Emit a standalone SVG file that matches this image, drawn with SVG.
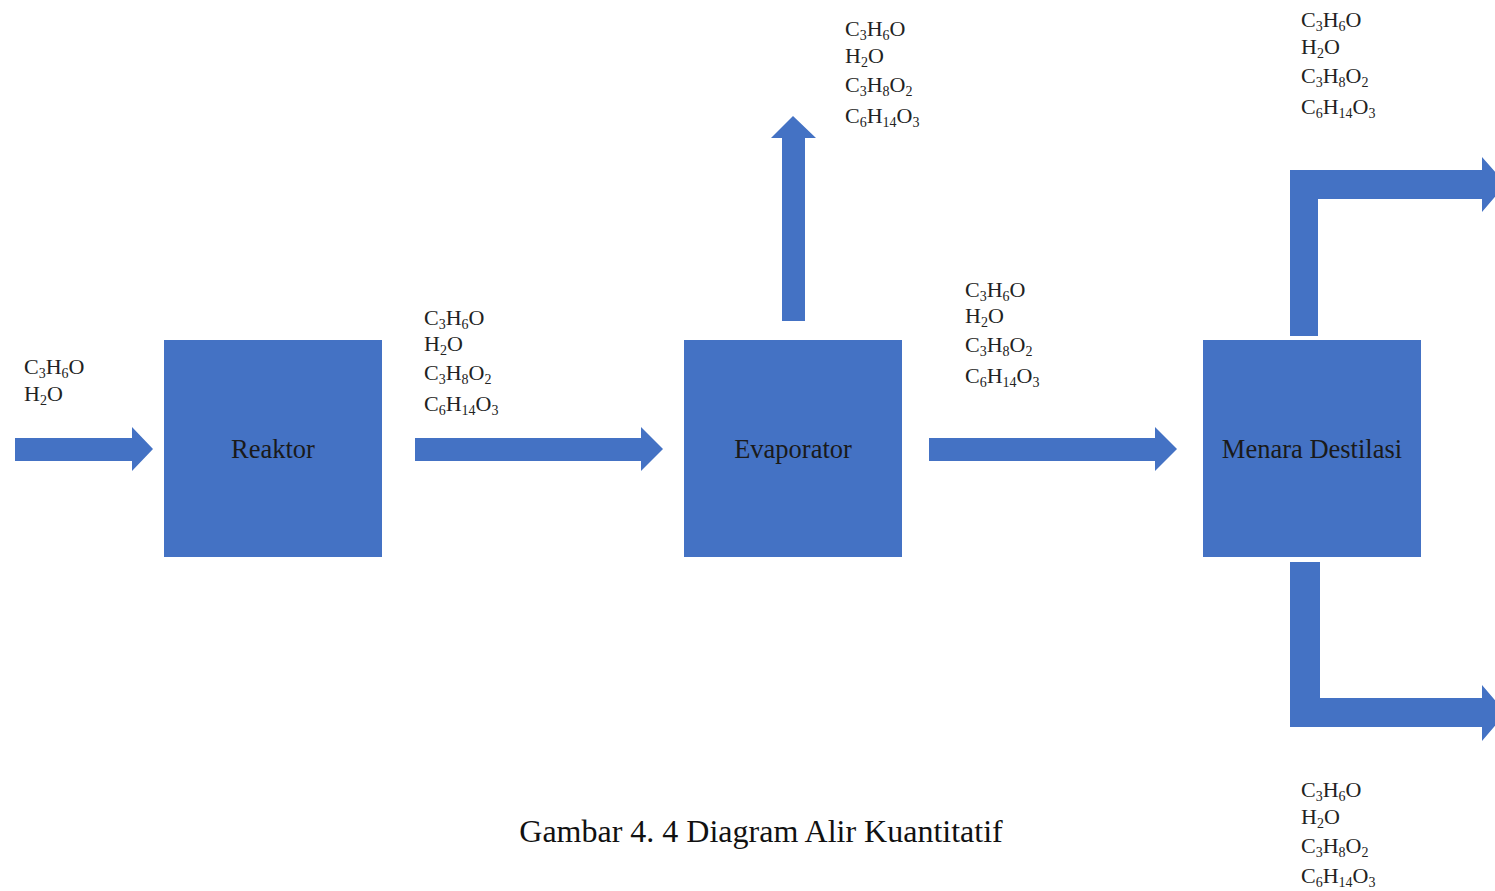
<svg xmlns="http://www.w3.org/2000/svg" width="1495" height="891" viewBox="0 0 1495 891">
<style>
.box{fill:#4472C4;}
.arr{fill:#4472C4;}
.lbl{font-family:"Liberation Serif","Times New Roman",serif;font-size:26.5px;fill:#1a1a1a;text-anchor:middle;dominant-baseline:central;}
.f{font-family:"Liberation Serif","Times New Roman",serif;font-size:22px;fill:#222;}
.s{font-size:14px;}
.cap{font-family:"Liberation Serif","Times New Roman",serif;font-size:32px;fill:#111;text-anchor:middle;}
</style>
<rect width="1495" height="891" fill="#fff"/>
<g id="connectors">
<polygon class="arr" points="15,438 132,438 132,427 153,449 132,471 132,461 15,461"/>
<polygon class="arr" points="415,438 641,438 641,427 663,449 641,471 641,461 415,461"/>
<polygon class="arr" points="929,438 1155,438 1155,427 1177,449 1155,471 1155,461 929,461"/>
<polygon class="arr" points="782,321 782,138 771,138 793,116 816,138 805,138 805,321"/>
<polygon class="arr" points="1290,336 1290,170 1482,170 1482,157 1506,184 1482,212 1482,199 1318,199 1318,336"/>
<polygon class="arr" points="1290,562 1320,562 1320,698 1482,698 1482,685 1506,713 1482,741 1482,727 1290,727"/>
</g>
<g id="reaktor"><rect class="box" x="164" y="340" width="218" height="217"/><text class="lbl" x="273" y="449">Reaktor</text></g>
<g id="evaporator"><rect class="box" x="684" y="340" width="218" height="217"/><text class="lbl" x="793" y="449">Evaporator</text></g>
<g id="menara"><rect class="box" x="1203" y="340" width="218" height="217"/><text class="lbl" x="1312" y="449">Menara Destilasi</text></g>
<g id="labels-in">
<text class="f" x="24" y="374">C<tspan class="s" dy="4">3</tspan><tspan dy="-4">H</tspan><tspan class="s" dy="4">6</tspan><tspan dy="-4">O</tspan></text>
<text class="f" x="24" y="401">H<tspan class="s" dy="4">2</tspan><tspan dy="-4">O</tspan></text>
</g>
<g id="labels-r">
<text class="f" x="424" y="325">C<tspan class="s" dy="4">3</tspan><tspan dy="-4">H</tspan><tspan class="s" dy="4">6</tspan><tspan dy="-4">O</tspan></text>
<text class="f" x="424" y="351">H<tspan class="s" dy="4">2</tspan><tspan dy="-4">O</tspan></text>
<text class="f" x="424" y="380">C<tspan class="s" dy="4">3</tspan><tspan dy="-4">H</tspan><tspan class="s" dy="4">8</tspan><tspan dy="-4">O</tspan><tspan class="s" dy="4">2</tspan></text>
<text class="f" x="424" y="411">C<tspan class="s" dy="4">6</tspan><tspan dy="-4">H</tspan><tspan class="s" dy="4">14</tspan><tspan dy="-4">O</tspan><tspan class="s" dy="4">3</tspan></text>
</g>
<g id="labels-top">
<text class="f" x="845" y="36">C<tspan class="s" dy="4">3</tspan><tspan dy="-4">H</tspan><tspan class="s" dy="4">6</tspan><tspan dy="-4">O</tspan></text>
<text class="f" x="845" y="63">H<tspan class="s" dy="4">2</tspan><tspan dy="-4">O</tspan></text>
<text class="f" x="845" y="92">C<tspan class="s" dy="4">3</tspan><tspan dy="-4">H</tspan><tspan class="s" dy="4">8</tspan><tspan dy="-4">O</tspan><tspan class="s" dy="4">2</tspan></text>
<text class="f" x="845" y="123">C<tspan class="s" dy="4">6</tspan><tspan dy="-4">H</tspan><tspan class="s" dy="4">14</tspan><tspan dy="-4">O</tspan><tspan class="s" dy="4">3</tspan></text>
</g>
<g id="labels-e">
<text class="f" x="965" y="297">C<tspan class="s" dy="4">3</tspan><tspan dy="-4">H</tspan><tspan class="s" dy="4">6</tspan><tspan dy="-4">O</tspan></text>
<text class="f" x="965" y="323">H<tspan class="s" dy="4">2</tspan><tspan dy="-4">O</tspan></text>
<text class="f" x="965" y="352">C<tspan class="s" dy="4">3</tspan><tspan dy="-4">H</tspan><tspan class="s" dy="4">8</tspan><tspan dy="-4">O</tspan><tspan class="s" dy="4">2</tspan></text>
<text class="f" x="965" y="383">C<tspan class="s" dy="4">6</tspan><tspan dy="-4">H</tspan><tspan class="s" dy="4">14</tspan><tspan dy="-4">O</tspan><tspan class="s" dy="4">3</tspan></text>
</g>
<g id="labels-d-top">
<text class="f" x="1301" y="27">C<tspan class="s" dy="4">3</tspan><tspan dy="-4">H</tspan><tspan class="s" dy="4">6</tspan><tspan dy="-4">O</tspan></text>
<text class="f" x="1301" y="54">H<tspan class="s" dy="4">2</tspan><tspan dy="-4">O</tspan></text>
<text class="f" x="1301" y="83">C<tspan class="s" dy="4">3</tspan><tspan dy="-4">H</tspan><tspan class="s" dy="4">8</tspan><tspan dy="-4">O</tspan><tspan class="s" dy="4">2</tspan></text>
<text class="f" x="1301" y="114">C<tspan class="s" dy="4">6</tspan><tspan dy="-4">H</tspan><tspan class="s" dy="4">14</tspan><tspan dy="-4">O</tspan><tspan class="s" dy="4">3</tspan></text>
</g>
<g id="labels-d-bottom">
<text class="f" x="1301" y="797">C<tspan class="s" dy="4">3</tspan><tspan dy="-4">H</tspan><tspan class="s" dy="4">6</tspan><tspan dy="-4">O</tspan></text>
<text class="f" x="1301" y="824">H<tspan class="s" dy="4">2</tspan><tspan dy="-4">O</tspan></text>
<text class="f" x="1301" y="853">C<tspan class="s" dy="4">3</tspan><tspan dy="-4">H</tspan><tspan class="s" dy="4">8</tspan><tspan dy="-4">O</tspan><tspan class="s" dy="4">2</tspan></text>
<text class="f" x="1301" y="883">C<tspan class="s" dy="4">6</tspan><tspan dy="-4">H</tspan><tspan class="s" dy="4">14</tspan><tspan dy="-4">O</tspan><tspan class="s" dy="4">3</tspan></text>
</g>
<text class="cap" x="761" y="842">Gambar 4. 4 Diagram Alir Kuantitatif</text>
</svg>
